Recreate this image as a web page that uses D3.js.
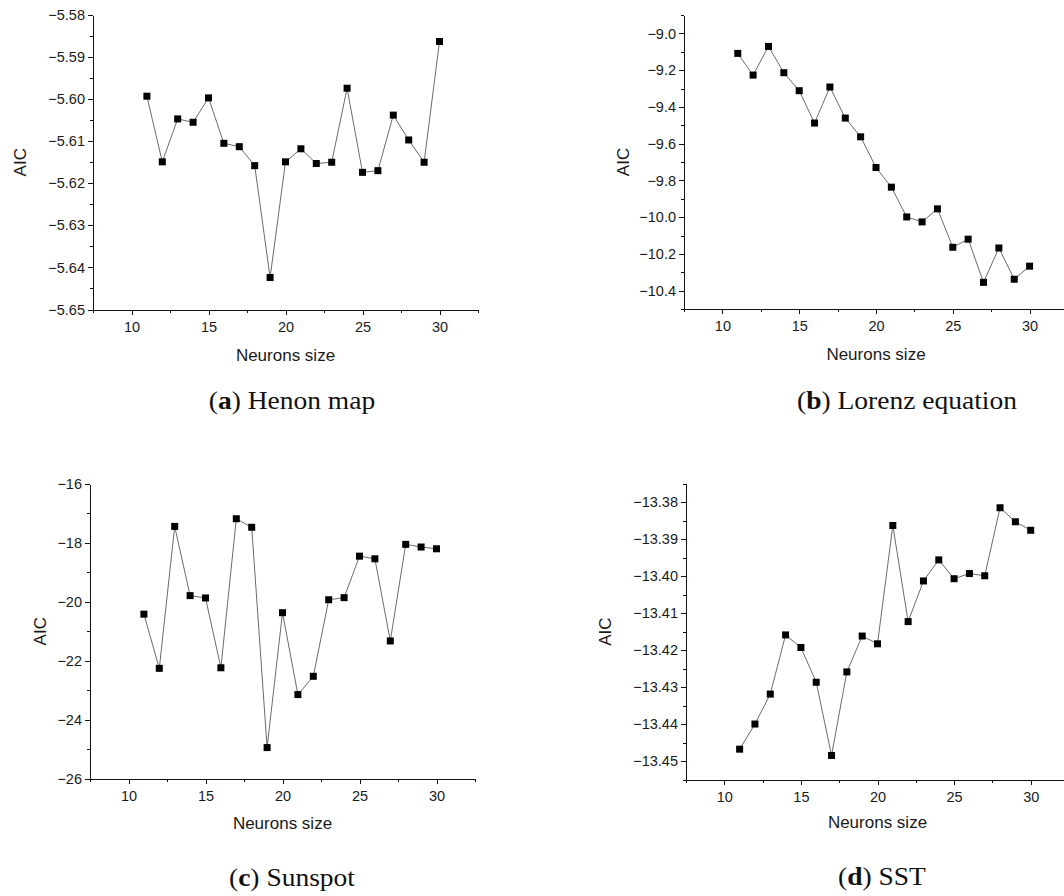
<!DOCTYPE html>
<html>
<head>
<meta charset="utf-8">
<script src="https://cdn.jsdelivr.net/npm/d3@7"></script>
<style>
  html, body { margin: 0; padding: 0; background: #fff; }
  svg { display: block; }
  .tick text { font-family: "Liberation Sans", Arial, sans-serif; font-size: 14.5px; fill: #1a1a1a; }
  .axis path, .axis line { stroke: #111; stroke-width: 1; shape-rendering: crispEdges; }
  .title { font-family: "Liberation Sans", Arial, sans-serif; font-size: 17px; fill: #1a1a1a; }
  .caption { font-family: "Liberation Serif", "Times New Roman", serif; font-size: 25px; fill: #111; }
</style>
</head>
<body>
<svg id="chart" width="1064" height="896"></svg>
<script>
// Hidden-layer neuron counts tested
const neurons = [11, 12, 13, 14, 15, 16, 17, 18, 19, 20, 21, 22, 23, 24, 25, 26, 27, 28, 29, 30];

// AIC for each data set
const henonAIC = [-5.5993, -5.6149, -5.6047, -5.6055, -5.5997, -5.6105, -5.6113, -5.6158, -5.6424, -5.6149,
                  -5.6118, -5.6153, -5.6150, -5.5974, -5.6174, -5.6170, -5.6038, -5.6097, -5.6150, -5.5863];
const lorenzAIC = [-9.109, -9.227, -9.071, -9.214, -9.312, -9.488, -9.292, -9.461, -9.563, -9.730,
                   -9.837, -9.999, -10.026, -9.955, -10.164, -10.120, -10.355, -10.168, -10.338, -10.267];
const sunspotAIC = [-20.42, -22.26, -17.44, -19.79, -19.87, -22.24, -17.18, -17.47, -24.95, -20.37,
                    -23.15, -22.53, -19.93, -19.86, -18.45, -18.54, -21.33, -18.05, -18.14, -18.20];
const sstAIC = [-13.4468, -13.4400, -13.4319, -13.4159, -13.4193, -13.4287, -13.4485, -13.4259, -13.4162, -13.4183,
                -13.3863, -13.4123, -13.4013, -13.3956, -13.4007, -13.3993, -13.3999, -13.3815, -13.3853, -13.3876];

// Axis ticks
const xTicks = [10, 15, 20, 25, 30];
const xMinorTicks = [7.5, 12.5, 17.5, 22.5, 27.5, 32.5];
const henonYTicks = [-5.65, -5.64, -5.63, -5.62, -5.61, -5.60, -5.59, -5.58];
const henonYMinor = [-5.645, -5.635, -5.625, -5.615, -5.605, -5.595, -5.585];
const lorenzYTicks = [-10.4, -10.2, -10.0, -9.8, -9.6, -9.4, -9.2, -9.0];
const lorenzYMinor = [-10.5, -10.3, -10.1, -9.9, -9.7, -9.5, -9.3, -9.1, -8.9];
const sunspotYTicks = [-26, -24, -22, -20, -18, -16];
const sunspotYMinor = [-25, -23, -21, -19, -17];
const sstYTicks = [-13.45, -13.44, -13.43, -13.42, -13.41, -13.40, -13.39, -13.38];
const sstYMinor = [-13.455, -13.445, -13.435, -13.425, -13.415, -13.405, -13.395, -13.385, -13.375];

const xDomain = [7.5, 32.5];
const minus = s => s.replace("-", "\u2212");

const svg = d3.select("#chart");

const panels = [
  { values: henonAIC, yDomain: [-5.65, -5.58], yTicks: henonYTicks, yMinor: henonYMinor, fmt: ".2f",
    x0: 93, x1: 478, y0: 309.5, y1: 15, yTitleX: 20, xTitleY: 361,
    letter: "a", name: " Henon map", capX: 292, capY: 409 },
  { values: lorenzAIC, yDomain: [-10.5, -8.9], yTicks: lorenzYTicks, yMinor: lorenzYMinor, fmt: ".1f",
    x0: 684, x1: 1068, y0: 309, y1: 15, yTitleX: 623, xTitleY: 360,
    letter: "b", name: " Lorenz equation", capX: 907, capY: 409 },
  { values: sunspotAIC, yDomain: [-26, -16], yTicks: sunspotYTicks, yMinor: sunspotYMinor, fmt: "d",
    x0: 90, x1: 475, y0: 778.5, y1: 484, yTitleX: 40, xTitleY: 829,
    letter: "c", name: " Sunspot", capX: 292, capY: 886 },
  { values: sstAIC, yDomain: [-13.455, -13.375], yTicks: sstYTicks, yMinor: sstYMinor, fmt: ".2f",
    x0: 686, x1: 1069, y0: 779.5, y1: 483.7, yTitleX: 605, xTitleY: 828,
    letter: "d", name: " SST", capX: 882, capY: 885 }
];

panels.forEach(p => {
  const x = d3.scaleLinear().domain(xDomain).range([p.x0, p.x1]);
  const y = d3.scaleLinear().domain(p.yDomain).range([p.y0, p.y1]);
  const g = svg.append("g");

  // minor ticks
  g.append("g").attr("class", "axis")
    .attr("transform", `translate(0,${p.y0})`)
    .call(d3.axisBottom(x).tickValues(xMinorTicks).tickSize(3).tickSizeOuter(0).tickFormat(""))
    .call(a => a.select(".domain").remove());
  g.append("g").attr("class", "axis")
    .attr("transform", `translate(${p.x0},0)`)
    .call(d3.axisLeft(y).tickValues(p.yMinor).tickSize(3).tickSizeOuter(0).tickFormat(""))
    .call(a => a.select(".domain").remove());

  // major axes
  g.append("g").attr("class", "axis")
    .attr("transform", `translate(0,${p.y0})`)
    .call(d3.axisBottom(x).tickValues(xTicks).tickSize(5).tickPadding(7).tickSizeOuter(0).tickFormat(d3.format("d")));
  g.append("g").attr("class", "axis")
    .attr("transform", `translate(${p.x0},0)`)
    .call(d3.axisLeft(y).tickValues(p.yTicks).tickSize(5).tickPadding(3).tickSizeOuter(0)
      .tickFormat(d => minus(d3.format(p.fmt)(d))));

  // titles
  g.append("text").attr("class", "title")
    .attr("transform", `translate(${p.yTitleX},${(p.y0 + p.y1) / 2}) rotate(-90)`)
    .attr("text-anchor", "middle").attr("dy", "0.35em").text("AIC");
  g.append("text").attr("class", "title")
    .attr("x", (p.x0 + p.x1) / 2).attr("y", p.xTitleY)
    .attr("text-anchor", "middle").text("Neurons size");

  // data line and markers
  const pts = neurons.map((n, i) => [n, p.values[i]]);
  g.append("path")
    .datum(pts)
    .attr("fill", "none").attr("stroke", "#5a5a5a").attr("stroke-width", 0.9)
    .attr("d", d3.line().x(d => x(d[0])).y(d => y(d[1])));
  const s = 7;
  g.selectAll("rect.pt").data(pts).join("rect").attr("class", "pt")
    .attr("x", d => x(d[0]) - s / 2).attr("y", d => y(d[1]) - s / 2)
    .attr("width", s).attr("height", s).attr("fill", "#000");

  // caption, slightly widened to suit the book-face proportions
  const cap = svg.append("text").attr("class", "caption")
    .attr("transform", `translate(${p.capX},${p.capY}) scale(1.1,1)`)
    .attr("text-anchor", "middle");
  cap.append("tspan").text("(");
  cap.append("tspan").attr("font-weight", "bold").text(p.letter);
  cap.append("tspan").text(")" + p.name);
});
</script>
</body>
</html>
